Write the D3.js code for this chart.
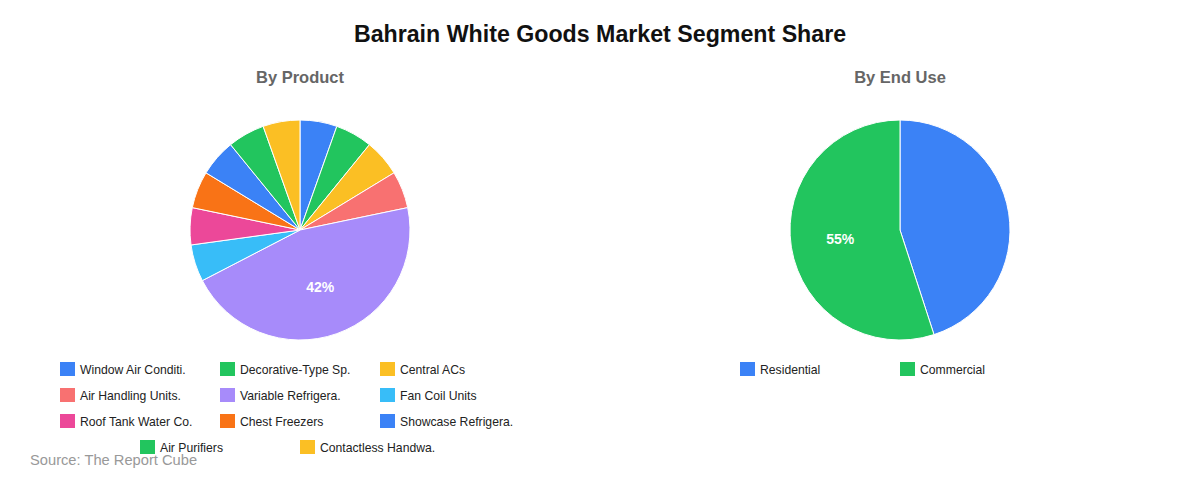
<!DOCTYPE html>
<html lang="en">
<head>
  <meta charset="UTF-8">
  <title>Bahrain White Goods Market Segment Share</title>
  <script src="https://d3js.org/d3.v7.min.js"></script>
  <style>
    body {
      margin: 0;
      font-family: "Liberation Sans", Arial, sans-serif;
      background: #fff;
    }
  </style>
</head>
<body>
<svg id="chart" width="1200" height="480"></svg>

<script>
// Data
const productLabels = [
  "Window Air Conditi.", "Decorative-Type Sp.", "Central ACs",
  "Air Handling Units.", "Variable Refrigera.", "Fan Coil Units",
  "Roof Tank Water Co.", "Chest Freezers", "Showcase Refrigera.",
  "Air Purifiers", "Contactless Handwa."
];
const productValues = [5, 5, 5, 5, 42, 5, 5, 5, 5, 5, 5];
const productColors = [
  "#3b82f6", "#22c55e", "#fbbf24", "#f87171", "#a78bfa", "#38bdf8",
  "#ec4899", "#f97316", "#3b82f6", "#22c55e", "#fbbf24"
];

const endUseLabels = ["Residential", "Commercial"];
const endUseValues = [45, 55];
const endUseColors = ["#3b82f6", "#22c55e"];

const svg = d3.select("#chart");
const width = 1200;

// Main title
svg.append("text")
  .attr("x", width / 2)
  .attr("y", 42)
  .attr("text-anchor", "middle")
  .attr("font-size", 23.2)
  .attr("font-weight", "bold")
  .attr("fill", "#111")
  .text("Bahrain White Goods Market Segment Share");

// Source note
svg.append("text")
  .attr("x", 30)
  .attr("y", 465)
  .attr("font-size", 14.7)
  .attr("fill", "#999")
  .text("Source: The Report Cube");

function drawPie(cx, title, labels, values, colors) {
  const radius = 110;
  const cy = 230;

  svg.append("text")
    .attr("x", cx)
    .attr("y", 82.5)
    .attr("text-anchor", "middle")
    .attr("font-size", 16.5)
    .attr("font-weight", "bold")
    .attr("fill", "#666")
    .text(title);

  const items = labels.map((label, i) => ({ label, value: values[i], color: colors[i] }));

  const pie = d3.pie().sort(null).value(d => d.value);
  const arcs = pie(items);
  const arc = d3.arc().innerRadius(0).outerRadius(radius);
  const labelArc = d3.arc().innerRadius(radius * 0.55).outerRadius(radius * 0.55);

  const g = svg.append("g").attr("transform", `translate(${cx},${cy})`);

  g.selectAll("path")
    .data(arcs)
    .enter()
    .append("path")
    .attr("d", arc)
    .attr("fill", d => d.data.color)
    .attr("stroke", "#fff")
    .attr("stroke-width", 1);

  // only the biggest slice gets a label
  const biggest = d3.max(values);
  g.selectAll(".slice-label")
    .data(arcs.filter(d => d.data.value === biggest))
    .enter()
    .append("text")
    .attr("class", "slice-label")
    .attr("transform", d => `translate(${labelArc.centroid(d)})`)
    .attr("text-anchor", "middle")
    .attr("dy", "0.35em")
    .attr("font-size", 14)
    .attr("font-weight", "bold")
    .attr("fill", "#fff")
    .text(d => `${d.data.value}%`);

  // Legend, 3 per row, rows centred under the pie
  const perRow = 3;
  const colW = 160;
  const rowH = 26;
  const legend = svg.append("g");
  items.forEach((d, i) => {
    const row = Math.floor(i / perRow);
    const col = i % perRow;
    const inRow = Math.min(perRow, items.length - row * perRow);
    const x0 = cx - (inRow * colW) / 2 + col * colW;
    const y0 = 362 + row * rowH;
    const item = legend.append("g").attr("transform", `translate(${x0},${y0})`);
    item.append("rect")
      .attr("width", 15)
      .attr("height", 14)
      .attr("fill", d.color);
    item.append("text")
      .attr("x", 20)
      .attr("y", 11.5)
      .attr("font-size", 12.2)
      .attr("fill", "#222")
      .text(d.label);
  });
}

drawPie(300, "By Product", productLabels, productValues, productColors);
drawPie(900, "By End Use", endUseLabels, endUseValues, endUseColors);
</script>
</body>
</html>
